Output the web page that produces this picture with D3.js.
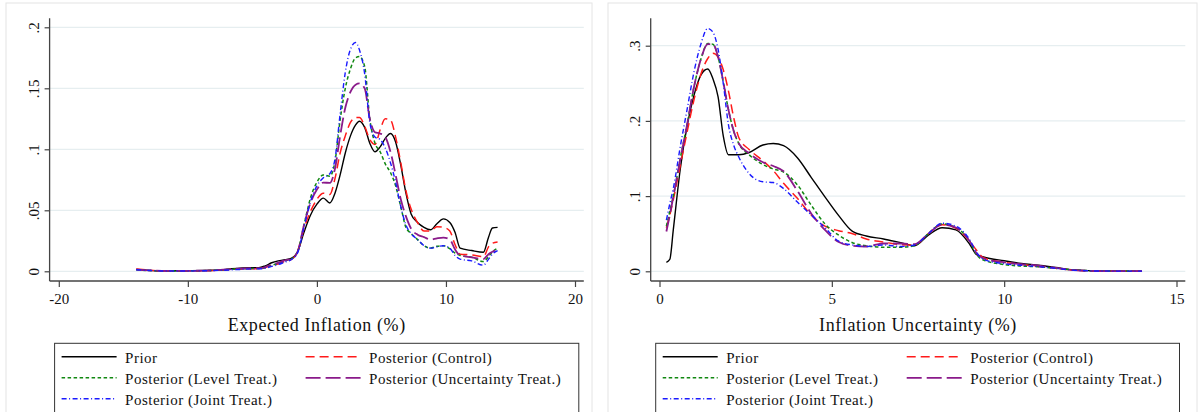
<!DOCTYPE html>
<html>
<head>
<meta charset="utf-8">
<script src="https://cdn.jsdelivr.net/npm/d3@7"></script>
<style>
  body { margin: 0; background: #fff; }
  svg { display: block; font-family: "Liberation Serif", "Times New Roman", serif; }
</style>
</head>
<body>
<svg id="chart" width="1198" height="412"></svg>
<script>
// left panel: expected inflation (%)
const xInfl = [-14, -13, -12, -10, -8, -6, -5, -4.5, -4, -3.5,
  -3, -2.5, -2, -1.5, -1, -0.5, 0, 0.5, 1, 1.4,
  1.8, 2.2, 2.6, 3, 3.3, 3.7, 4.1, 4.5, 4.9, 5.3,
  5.7, 6.1, 6.5, 6.9, 7.3, 7.8, 8.3, 8.8, 9.3, 9.8,
  10.3, 10.7, 11.1, 12, 12.9, 13.3, 13.6, 14];
const priorInfl = [.0016, .0008, .0004, .0005, .0008, .0025, .003, .003, .0045, .007,
  .0085, .0095, .0105, .016, .032, .046, .055, .060, .056, .064,
  .079, .097, .111, .120, .123, .118, .105, .098, .102, .109,
  .113, .106, .087, .064, .047, .040, .036, .034, .039, .043,
  .040, .032, .019, .017, .0156, .028, .0355, .036];
const controlInfl = [.0018, .001, .0003, .0003, .0007, .0018, .002, .002, .003, .005,
  .006, .008, .0095, .016, .035, .049, .059, .064, .063, .076,
  .097, .111, .122, .126, .126, .119, .108, .104, .116, .125,
  .124, .110, .089, .066, .051, .040, .033, .033, .0366, .036,
  .033, .022, .014, .0135, .012, .020, .023, .024];
const levelInfl = [.0012, .0006, .0003, .0004, .0008, .002, .0022, .0022, .003, .005,
  .0065, .0085, .010, .016, .038, .060, .073, .079, .078, .090,
  .124, .150, .166, .175, .176, .168, .125, .105, .098, .088,
  .081, .070, .053, .036, .031, .026, .021, .019, .0205, .021,
  .0185, .015, .013, .0115, .008, .012, .016, .019];
const uncertInfl = [.0014, .0008, .0004, .0004, .0009, .0022, .0025, .0025, .0035, .0055,
  .007, .009, .010, .016, .038, .056, .067, .0727, .0725, .084,
  .111, .134, .147, .153, .154, .150, .125, .114, .113, .110,
  .098, .079, .059, .045, .035, .030, .028, .026, .027, .0276,
  .026, .018, .013, .0115, .010, .014, .016, .018];
const jointInfl = [.0013, .0007, .0003, .0003, .0006, .0015, .002, .002, .0025, .004,
  .0055, .0075, .0095, .015, .036, .057, .070, .0766, .080, .092,
  .129, .163, .182, .1875, .1814, .162, .122, .110, .108, .101,
  .089, .073, .053, .038, .031, .026, .021, .019, .020, .021,
  .019, .013, .010, .0085, .005, .010, .014, .017];

// right panel: inflation uncertainty (%)
const xUnc = [0.2, 0.3, 0.4, 0.6, 0.8, 1.0, 1.2, 1.4, 1.55, 1.7,
  1.85, 2.0, 2.15, 2.3, 2.6, 3.0, 3.3, 3.6, 4.0, 4.4,
  4.8, 5.2, 5.6, 6.0, 6.5, 7.0, 7.4, 7.8, 8.2, 8.6,
  9.0, 9.2, 9.4, 10, 10.5, 11, 11.5, 12, 12.5, 13, 14];
const priorUnc = [.012, .016, .055, .135, .193, .234, .261, .269, .256, .232,
  .180, .155, .155, .155, .158, .168, .170, .167, .151, .125,
  .099, .074, .053, .047, .043, .038, .034, .048, .058, .055,
  .036, .022, .019, .014, .0105, .008, .005, .002, .0008, .0003, .0002];
const controlUnc = [.058, .075, .095, .140, .185, .228, .262, .283, .290, .285,
  .268, .240, .205, .178, .162, .147, .134, .117, .097, .075,
  .060, .054, .050, .043, .039, .0355, .035, .050, .062, .057,
  .040, .028, .018, .012, .009, .0065, .004, .0015, .0006, .0003, .0002];
const levelUnc = [.060, .080, .100, .150, .195, .245, .282, .303, .302, .285,
  .252, .215, .187, .170, .155, .142, .136, .132, .115, .088,
  .063, .048, .038, .034, .032, .032, .034, .050, .063, .058,
  .040, .022, .015, .009, .007, .006, .004, .002, .0008, .0004, .0002];
const uncertUnc = [.053, .075, .099, .148, .195, .245, .282, .302, .302, .285,
  .252, .215, .187, .170, .157, .145, .140, .133, .107, .077,
  .055, .039, .034, .033, .037, .037, .036, .050, .062, .058,
  .040, .024, .017, .012, .0095, .0075, .0045, .0015, .0006, .0003, .0002];
const jointUnc = [.068, .090, .110, .165, .215, .265, .302, .323, .318, .295,
  .250, .195, .168, .152, .130, .119, .118, .110, .092, .075,
  .058, .040, .035, .033, .035, .033, .035, .050, .064, .060,
  .042, .025, .016, .010, .008, .006, .004, .0015, .0006, .0003, .0002];

// legend order is row-major over two columns
const seriesNames = ["Prior", "Posterior (Control)", "Posterior (Level Treat.)",
  "Posterior (Uncertainty Treat.)", "Posterior (Joint Treat.)"];

const inflTicksX = [-20, -10, 0, 10, 20];
const inflTicksY = [0, .05, .1, .15, .2];
const uncTicksX = [0, 5, 10, 15];
const uncTicksY = [0, .1, .2, .3];

// line styles, same order as seriesNames
const lineStyles = [
  { color: "#000000", dash: null, width: 1.4 },
  { color: "#ff1a1a", dash: "9,5", width: 1.5 },
  { color: "#118811", dash: "3.5,2.5", width: 1.5 },
  { color: "#8a1a8a", dash: "15,5", width: 1.8 },
  { color: "#1a1aff", dash: "5,2.5,1,2.5", width: 1.4 }
];

const axisColor = "#444";
const gridColor = "#e6eef0";

const svg = d3.select("#chart");

function drawPanel(p) {
  const g = svg.append("g");

  // faint outer frame of the panel
  g.append("rect")
    .attr("x", p.frame[0]).attr("y", p.frame[1])
    .attr("width", p.frame[2] - p.frame[0]).attr("height", p.frame[3] - p.frame[1])
    .attr("fill", "none").attr("stroke", "#e4e4e4");

  const x = d3.scaleLinear().domain(p.xDomain).range(p.xRange);
  const y = d3.scaleLinear().domain(p.yDomain).range(p.yRange);

  // grid
  g.append("g").selectAll("line")
    .data(p.yTicks)
    .join("line")
    .attr("x1", p.left).attr("x2", p.right)
    .attr("y1", (d) => y(d)).attr("y2", (d) => y(d))
    .attr("stroke", gridColor).attr("stroke-width", 1.3);

  // series
  const line = d3.line()
    .x((d) => x(d[0]))
    .y((d) => y(d[1]))
    .curve(d3.curveMonotoneX);

  p.series.forEach((vals, i) => {
    const s = lineStyles[i];
    g.append("path")
      .datum(p.xs.map((v, j) => [v, vals[j]]))
      .attr("d", line)
      .attr("fill", "none")
      .attr("stroke", s.color)
      .attr("stroke-width", s.width)
      .attr("stroke-dasharray", s.dash)
      .attr("stroke-linejoin", "round");
  });

  // x axis
  const xAxis = g.append("g")
    .attr("transform", `translate(0,${p.bottom})`)
    .call(d3.axisBottom(x).tickValues(p.xTicks).tickSize(6).tickSizeOuter(0).tickPadding(6.5)
      .tickFormat((d) => String(d)));
  xAxis.select(".domain").remove();
  xAxis.selectAll(".tick line").attr("stroke", axisColor).attr("stroke-width", 1.2);
  xAxis.selectAll(".tick text").attr("fill", "#111").style("font-size", "15px")
    .style("font-family", "'Liberation Serif', serif");
  xAxis.append("line")
    .attr("x1", p.left).attr("x2", p.right)
    .attr("stroke", axisColor).attr("stroke-width", 1.3);

  // y axis, labels turned to read upwards
  const yAxis = g.append("g")
    .attr("transform", `translate(${p.left},0)`)
    .call(d3.axisLeft(y).tickValues(p.yTicks).tickSize(5).tickSizeOuter(0)
      .tickFormat((d) => (d === 0 ? "0" : String(d).replace(/^0/, ""))));
  yAxis.select(".domain").remove();
  yAxis.selectAll(".tick line").attr("stroke", axisColor).attr("stroke-width", 1.2);
  yAxis.selectAll(".tick text")
    .attr("x", 0).attr("y", -10.5).attr("dy", null)
    .attr("transform", "rotate(-90)")
    .attr("text-anchor", "middle")
    .attr("fill", "#111").style("font-size", "15px")
    .style("font-family", "'Liberation Serif', serif");
  yAxis.append("line")
    .attr("y1", p.top).attr("y2", p.bottom)
    .attr("stroke", axisColor).attr("stroke-width", 1.3);

  // axis title
  g.append("text")
    .attr("x", (p.left + p.right) / 2)
    .attr("y", 331)
    .attr("text-anchor", "middle")
    .attr("fill", "#111")
    .style("font-size", "18px")
    .style("letter-spacing", "0.6px")
    .text(p.title);

  // legend
  const lg = g.append("g");
  lg.append("rect")
    .attr("x", p.legend[0]).attr("y", p.legend[1])
    .attr("width", p.legend[2] - p.legend[0]).attr("height", 80)
    .attr("fill", "#fff").attr("stroke", "#333").attr("stroke-width", 1);

  const colX = [p.legend[0] + 7, p.legend[0] + 251];
  seriesNames.forEach((name, i) => {
    const cx = colX[i % 2];
    const ry = p.legend[1] + 13.5 + Math.floor(i / 2) * 21;
    const s = lineStyles[i];
    lg.append("line")
      .attr("x1", cx).attr("x2", cx + 55)
      .attr("y1", ry).attr("y2", ry)
      .attr("stroke", s.color).attr("stroke-width", s.width)
      .attr("stroke-dasharray", s.dash);
    lg.append("text")
      .attr("x", cx + 63.5).attr("y", ry + 6)
      .attr("fill", "#111")
      .style("font-size", "15px")
      .style("letter-spacing", "0.5px")
      .text(name);
  });
}

drawPanel({
  frame: [6, 3, 592, 430],
  left: 49.6, right: 583.8, top: 18.3, bottom: 281,
  xDomain: [-20, 20], xRange: [58.8, 575],
  yDomain: [0, .2], yRange: [271.3, 27.3],
  xTicks: inflTicksX, yTicks: inflTicksY,
  xs: xInfl,
  series: [priorInfl, controlInfl, levelInfl, uncertInfl, jointInfl],
  title: "Expected Inflation (%)",
  legend: [54.6, 343.3, 578.8]
});

drawPanel({
  frame: [608, 3, 1197, 430],
  left: 650.7, right: 1185.3, top: 18.3, bottom: 281,
  xDomain: [0, 15], xRange: [659.5, 1176.5],
  yDomain: [0, .3], yRange: [271.3, 45.7],
  xTicks: uncTicksX, yTicks: uncTicksY,
  xs: xUnc,
  series: [priorUnc, controlUnc, levelUnc, uncertUnc, jointUnc],
  title: "Inflation Uncertainty (%)",
  legend: [655.7, 343.3, 1179.5]
});
</script>
</body>
</html>
